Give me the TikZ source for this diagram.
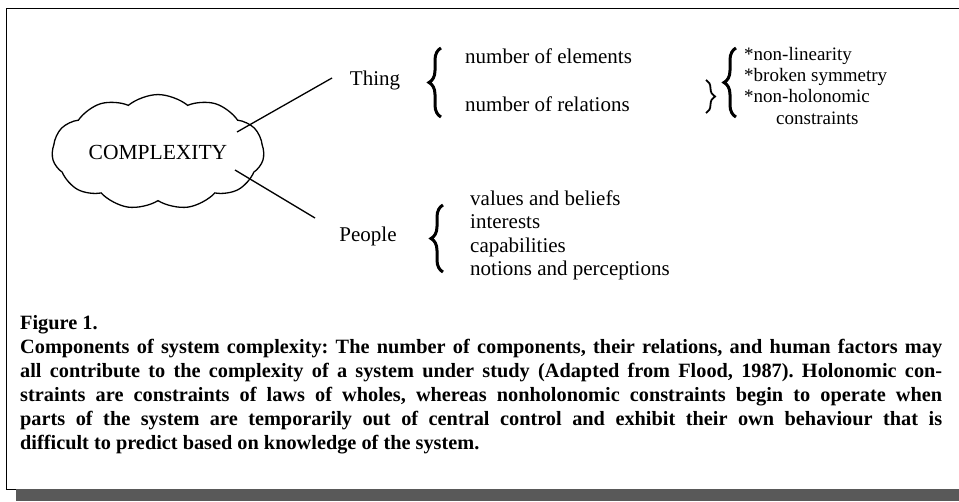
\documentclass[tikz,border=0pt]{standalone}
\usepackage{fontspec}
\setmainfont{Liberation Serif}
\usepackage{tikz}
\usetikzlibrary{positioning,shapes.symbols,decorations.pathreplacing}
\frenchspacing
\newcommand{\lblfont}{\fontsize{21}{25}\selectfont}
\newcommand{\starfont}{\fontsize{19}{23}\selectfont}
\newcommand{\captfont}{\fontsize{20.3}{24}\selectfont\bfseries}
\tikzset{lbl/.style={font=\lblfont,inner sep=0pt,text height=15pt,text depth=4pt},
	 item/.style={lbl,anchor=west},
	 star/.style={lbl,font=\starfont,text height=14pt},
	 puff/.style={cloud,draw,cloud puffs=11,cloud puff arc=80,aspect=2.1,
	   minimum width=212pt,minimum height=106pt,line width=1.3pt,font=\fontsize{21.5}{25}\selectfont},
	 curly/.style={decorate,decoration={brace,amplitude=12pt},line width=3pt},
	 link/.style={line width=1.3pt},
	 node distance = 5pt
	 }

\begin{document}
\begin{tikzpicture}[x=1pt,y=-1pt] % components of system complexity
	\useasboundingbox (0,0) rectangle (959,501);
	\draw[line width=0.8pt] (959,8) -- (6,8) -- (6,489) -- (959,489);
	\fill[black!65] (16,489) rectangle (959,501);
	\node[puff] (cx) at (158,152) {COMPLEXITY};
	\node[lbl] (thing) at (375,80) {Thing};
	\node[lbl] (people) at (368,236) {People};
	\coordinate (tin) at (237,132);
	\coordinate (tout) at (332,78);
	\coordinate (pin) at (235,170);
	\coordinate (pout) at (315,218);
	\draw[link] (tin) -- (tout);
	\draw[link] (pin) -- (pout);
	% thing branch
	\node[item] (el) at (465,58) {number of elements};
	\node[item] (rel) at (465,106) {number of relations};
	\coordinate (b1s) at (441,117);
	\coordinate (b1n) at (441,48);
	\draw[curly] (b1s) -- (b1n);
	\coordinate (b2n) at (706,80);
	\coordinate (b2s) at (706,113);
	\draw[curly,decoration={amplitude=9pt},line width=1.8pt] (b2n) -- (b2s);
	\coordinate (b3s) at (736,117);
	\coordinate (b3n) at (736,48);
	\draw[curly] (b3s) -- (b3n);
	\node[star,anchor=west] (nl) at (744,55) {*non-linearity};
	\node[star] (bs) [below right=3pt and 0pt of nl.south west] {*broken symmetry};
	\node[star] (nh) [below right=3pt and 0pt of bs.south west] {*non-holonomic};
	\node[star] (cs) [below right=3pt and 32pt of nh.south west] {constraints};
	% people branch
	\coordinate (b4s) at (443,272);
	\coordinate (b4n) at (443,205);
	\draw[curly] (b4s) -- (b4n);
	\node[item] (vb) at (470,200) {values and beliefs};
	\node[lbl] (ir) [below right=4pt and 0pt of vb.south west] {interests};
	\node[lbl] (cp) [below right=4pt and 0pt of ir.south west] {capabilities};
	\node[lbl] (np) [below right=4pt and 0pt of cp.south west] {notions and perceptions};
	% caption
	\node[anchor=north west,text width=922pt,align=justify,inner sep=0pt,font=\captfont] (capt) at (20,315)
	  {Figure 1.\\
	   Components of system complexity: The number of components, their relations, and human factors may\linebreak
	   all contribute to the complexity of a system under study (Adapted from Flood, 1987). Holonomic con-\linebreak
	   straints are constraints of laws of wholes, whereas nonholonomic constraints begin to operate when\linebreak
	   parts of the system are temporarily out of central control and exhibit their own behaviour that is\linebreak
	   difficult to predict based on knowledge of the system.};
\end{tikzpicture}
\end{document}
